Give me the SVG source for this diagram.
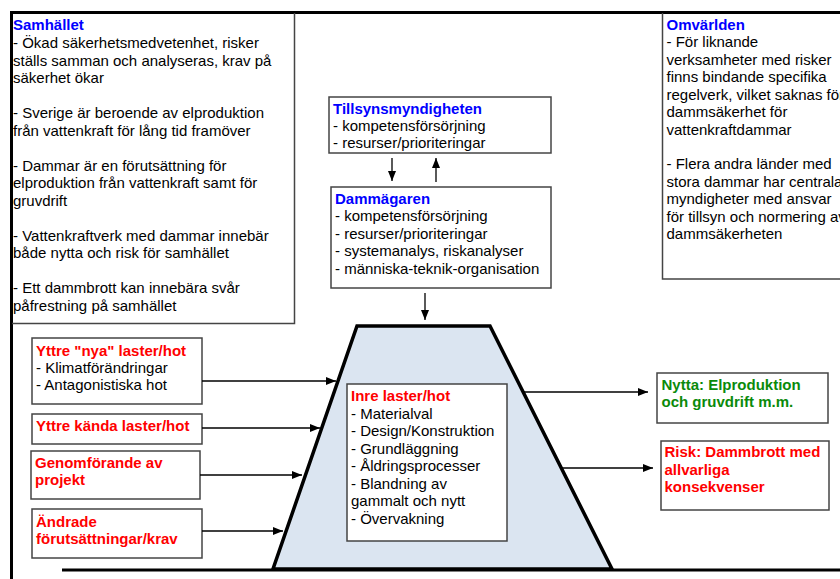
<svg xmlns="http://www.w3.org/2000/svg" width="840" height="579" viewBox="0 0 840 579">
<defs>
<marker id="ah" markerWidth="10" markerHeight="8" refX="10" refY="4" orient="auto" markerUnits="userSpaceOnUse">
<path d="M0,0 L10,4 L0,8 Z" fill="#000"/>
</marker>
<style>
text{font-family:"Liberation Sans",Arial,sans-serif;font-size:15px;fill:#000}
.h{font-weight:bold}
.blue{fill:#0000ff}
.red{fill:#ff0000}
.green{fill:#0a8a0a}
.box{fill:#fff;stroke:#444;stroke-width:1.5}
.frame{stroke:#000;stroke-width:3;fill:none}
.con{stroke:#000;stroke-width:1.3;fill:none;marker-end:url(#ah)}
</style>
</defs>
<rect width="840" height="579" fill="#fff"/>

<g id="dam">
<polygon points="357,326 490,326 612,569 273,569" fill="#dbe5f1" stroke="#000" stroke-width="3.5" stroke-linejoin="miter"/>
</g>

<g id="frame">
<path class="frame" d="M10,12.5 H840 M11.5,12 V579 M62,570 H840"/>
</g>

<g id="samhallet">
<path d="M294.5,13 V323.5 H12" fill="none" stroke="#444" stroke-width="1.5"/>
<text class="h blue" x="13" y="30">Samhället</text>
<text x="13" y="48">- Ökad säkerhetsmedvetenhet, risker</text>
<text x="13" y="65.5">ställs samman och analyseras, krav på</text>
<text x="13" y="83">säkerhet ökar</text>
<text x="13" y="118">- Sverige är beroende av elproduktion</text>
<text x="13" y="135.5">från vattenkraft för lång tid framöver</text>
<text x="13" y="170.5">- Dammar är en förutsättning för</text>
<text x="13" y="188">elproduktion från vattenkraft samt för</text>
<text x="13" y="205.5">gruvdrift</text>
<text x="13" y="240.5">- Vattenkraftverk med dammar innebär</text>
<text x="13" y="258">både nytta och risk för samhället</text>
<text x="13" y="293">- Ett dammbrott kan innebära svår</text>
<text x="13" y="310.5">påfrestning på samhället</text>
</g>

<g id="omvarlden">
<path d="M662.5,13 V279 H840" fill="none" stroke="#444" stroke-width="1.5"/>
<text class="h blue" x="666.5" y="29.5">Omvärlden</text>
<text x="666.5" y="47">- För liknande</text>
<text x="666.5" y="64.5">verksamheter med risker</text>
<text x="666.5" y="82">finns bindande specifika</text>
<text x="666.5" y="99.5">regelverk, vilket saknas för</text>
<text x="666.5" y="117">dammsäkerhet för</text>
<text x="666.5" y="134.5">vattenkraftdammar</text>
<text x="666.5" y="169">- Flera andra länder med</text>
<text x="666.5" y="186.5">stora dammar har centrala</text>
<text x="666.5" y="204">myndigheter med ansvar</text>
<text x="666.5" y="221.5">för tillsyn och normering av</text>
<text x="666.5" y="239">dammsäkerheten</text>
</g>

<g id="tillsyn">
<rect class="box" x="329" y="97" width="222" height="56"/>
<text class="h blue" x="333" y="113.5">Tillsynsmyndigheten</text>
<text x="333" y="130.5">- kompetensförsörjning</text>
<text x="333" y="147.5">- resurser/prioriteringar</text>
</g>

<g id="dammagaren">
<rect class="box" x="331" y="187" width="220" height="101"/>
<text class="h blue" x="335" y="203.5">Dammägaren</text>
<text x="335" y="221">- kompetensförsörjning</text>
<text x="335" y="238.5">- resurser/prioriteringar</text>
<text x="335" y="256">- systemanalys,  riskanalyser</text>
<text x="335" y="273.5">- människa-teknik-organisation</text>
</g>

<g id="yttre-nya">
<rect class="box" x="32" y="338" width="170" height="66"/>
<text class="h red" x="36" y="356">Yttre "nya" laster/hot</text>
<text x="36" y="373">- Klimatförändringar</text>
<text x="36" y="390">- Antagonistiska hot</text>
</g>

<g id="yttre-kanda">
<rect class="box" x="32" y="414" width="170" height="30"/>
<text class="h red" x="36" y="431">Yttre kända laster/hot</text>
</g>

<g id="genomforande">
<rect class="box" x="31" y="451" width="169" height="48"/>
<text class="h red" x="35" y="468">Genomförande av</text>
<text class="h red" x="35" y="484.5">projekt</text>
</g>

<g id="andrade">
<rect class="box" x="32" y="509" width="170" height="49"/>
<text class="h red" x="36" y="527">Ändrade</text>
<text class="h red" x="36" y="543.5">förutsättningar/krav</text>
</g>

<g id="inre">
<rect class="box" x="347" y="384" width="160" height="157"/>
<text class="h red" x="351" y="401">Inre laster/hot</text>
<text x="351" y="418.5">- Materialval</text>
<text x="351" y="436">- Design/Konstruktion</text>
<text x="351" y="453.5">- Grundläggning</text>
<text x="351" y="471">- Åldringsprocesser</text>
<text x="351" y="488.5">- Blandning av</text>
<text x="351" y="506">gammalt och nytt</text>
<text x="351" y="523.5">- Övervakning</text>
</g>

<g id="nytta">
<rect class="box" x="657" y="373" width="171" height="50"/>
<text class="h green" x="661.5" y="389.5">Nytta: Elproduktion</text>
<text class="h green" x="661.5" y="407">och gruvdrift m.m.</text>
</g>

<g id="risk">
<rect class="box" x="661" y="441" width="168" height="69"/>
<text class="h red" x="664.5" y="457">Risk: Dammbrott med</text>
<text class="h red" x="664.5" y="474.5">allvarliga</text>
<text class="h red" x="664.5" y="492">konsekvenser</text>
</g>

<g id="connectors">
<line class="con" x1="392" y1="158" x2="392" y2="181"/>
<line class="con" x1="436" y1="182" x2="436" y2="158"/>
<line class="con" x1="425" y1="293" x2="425" y2="320"/>
<line class="con" x1="202" y1="381" x2="336" y2="381"/>
<line class="con" x1="202" y1="428" x2="320" y2="428"/>
<line class="con" x1="200" y1="475" x2="302" y2="475"/>
<line class="con" x1="202" y1="531" x2="283" y2="531"/>
<line class="con" x1="524" y1="392" x2="648" y2="392"/>
<line class="con" x1="562" y1="468" x2="653" y2="468"/>
</g>
</svg>
